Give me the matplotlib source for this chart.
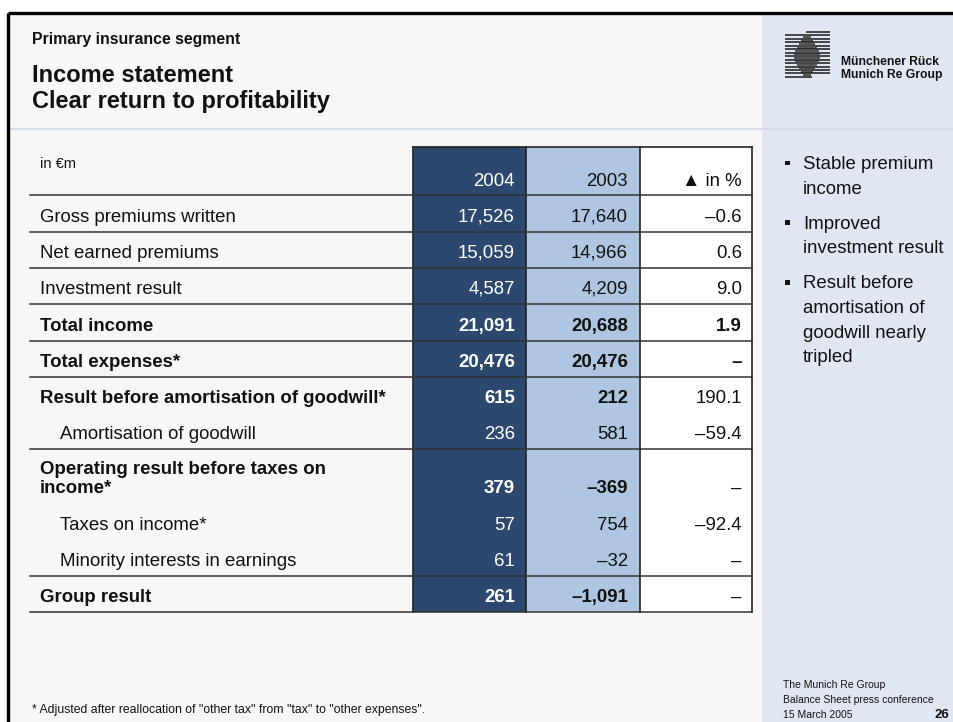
import matplotlib
matplotlib.use("Agg")
import matplotlib.pyplot as plt
from matplotlib.patches import Rectangle

plt.rcParams['font.family'] = ['Liberation Sans', 'DejaVu Sans']

# ---- table content -------------------------------------------------------
row_labels = [
    "Gross premiums written",
    "Net earned premiums",
    "Investment result",
    "Total income",
    "Total expenses*",
    "Result before amortisation of goodwill*",
    "Amortisation of goodwill",
    "Operating result before taxes on\nincome*",
    "Taxes on income*",
    "Minority interests in earnings",
    "Group result",
]
values_2004 = [17526, 15059, 4587, 21091, 20476, 615, 236, 379, 57, 61, 261]
values_2003 = [17640, 14966, 4209, 20688, 20476, 212, 581, -369, 754, -32, -1091]
change_pct = [-0.6, 0.6, 9.0, 1.9, None, 190.1, -59.4, None, -92.4, None, None]
bold_rows = [False, False, False, True, True, True, False, True, False, False, True]
bold_change = [False, False, False, True, True, False, False, False, False, False, False]
indented = [False, False, False, False, False, False, True, False, True, True, False]
rule_below = [True, True, True, True, True, False, True, False, False, True, True]
col_years = ["2004", "2003"]

bullets = [
    ["Stable premium", "income"],
    ["Improved", "investment result"],
    ["Result before", "amortisation of", "goodwill nearly", "tripled"],
]

# ---- layout (pixel space) ------------------------------------------------
W, H = 954, 722
col_edges = [413, 526, 640, 752]
table_top, header_bottom = 147, 195
row_bottoms = [232, 268, 304, 341, 377, 413, 449, 503, 540, 576, 612]
rule_left = 30
FS = 13.4

DARK = "#2c486e"
LIGHT = "#afc6e2"
MAIN_BG = "#f7f7f7"
PANEL_BG = "#e1e7f2"
INK = "#111111"

fig = plt.figure(figsize=(W / 100, H / 100), dpi=100)
ax = fig.add_axes([0, 0, 1, 1])
ax.set_xlim(0, W)
ax.set_ylim(H, 0)
ax.axis("off")
fig.patch.set_facecolor("white")

# slide backgrounds and frame
ax.add_patch(Rectangle((9, 13), 762 - 9, H - 13, color=MAIN_BG, lw=0, zorder=0))
ax.add_patch(Rectangle((762, 13), W - 762, H - 13, color=PANEL_BG, lw=0, zorder=0))
ax.plot([8.5, W], [12.5, 12.5], color="black", lw=2.4, solid_capstyle="butt", zorder=5)
ax.plot([8.5, 8.5], [12.5, H], color="black", lw=2.4, solid_capstyle="butt", zorder=5)
ax.plot([10, W], [128.5, 128.5], color="#d2dcea", lw=1.6, zorder=1)

# header text
ax.text(32, 44, "Primary insurance segment", fontsize=11.4, fontweight="bold",
        color=INK, va="baseline")
ax.text(32, 81.5, "Income statement", fontsize=17, fontweight="bold",
        color=INK, va="baseline")
ax.text(32, 108, "Clear return to profitability", fontsize=17, fontweight="bold",
        color=INK, va="baseline")

# logo: striped sphere
n_stripes = 14
for i in range(n_stripes):
    y = 32 + i * 3.45
    left = 806 if i == 0 else 785
    right = 812 if i == n_stripes - 1 else 830
    ax.plot([left, right], [y, y], color="#1a1a1a", lw=1.1, solid_capstyle="butt", zorder=3)
    t = (i + 0.5 - n_stripes / 2) / (n_stripes / 2)
    half = 14 * (1 - abs(t) ** 1.2)
    if half > 2 and i < n_stripes - 1:
        ax.plot([807 - half, 807 + half], [y + 1.7, y + 1.7], color="#2a2a2a",
                lw=1.1, solid_capstyle="butt", zorder=3)
ax.text(841, 65, "Münchener Rück", fontsize=8.7, fontweight="bold", color=INK, va="baseline")
ax.text(841, 78, "Munich Re Group", fontsize=8.7, fontweight="bold", color=INK, va="baseline")

# column fills
ax.add_patch(Rectangle((col_edges[0], table_top), col_edges[1] - col_edges[0],
                       row_bottoms[-1] - table_top, color=DARK, lw=0, zorder=1))
ax.add_patch(Rectangle((col_edges[1], table_top), col_edges[2] - col_edges[1],
                       row_bottoms[-1] - table_top, color=LIGHT, lw=0, zorder=1))
ax.add_patch(Rectangle((col_edges[2], table_top), col_edges[3] - col_edges[2],
                       row_bottoms[-1] - table_top, color="white", lw=0, zorder=1))

# grid
ax.plot([col_edges[0], col_edges[3]], [table_top, table_top], color="#222222", lw=1.2, zorder=4)
for x in col_edges:
    ax.plot([x, x], [table_top, row_bottoms[-1]], color="#222222", lw=1.2, zorder=4)
ax.plot([rule_left, col_edges[3]], [header_bottom, header_bottom], color="#333333", lw=1.1, zorder=4)
for yb, rule in zip(row_bottoms, rule_below):
    if rule:
        ax.plot([rule_left, col_edges[3]], [yb, yb], color="#333333", lw=1.1, zorder=4)

# column headers
ax.text(40, 167.5, "in €m", fontsize=10.5, color=INK, va="baseline")
ax.text(col_edges[1] - 11, 186.5, col_years[0], fontsize=FS, color="white", ha="right", va="baseline", zorder=5)
ax.text(col_edges[2] - 12, 186.5, col_years[1], fontsize=FS, color=INK, ha="right", va="baseline", zorder=5)
ax.text(col_edges[3] - 10, 186.5, "▲ in %", fontsize=FS, color=INK, ha="right", va="baseline", zorder=5)


def fmt_num(v):
    s = f"{abs(v):,}"
    return ("–" + s) if v < 0 else s


def fmt_pct(v):
    if v is None:
        return "–"
    s = f"{abs(v):.1f}"
    return ("–" + s) if v < 0 else s


for i, label in enumerate(row_labels):
    base = row_bottoms[i] - 10
    weight = "bold" if bold_rows[i] else "normal"
    lx = 60 if indented[i] else 40
    lines = label.split("\n")
    for k, line in enumerate(lines):
        ax.text(lx, base - (len(lines) - 1 - k) * 19.5, line, fontsize=FS, fontweight=weight,
                color=INK, va="baseline", zorder=5)
    ax.text(col_edges[1] - 11, base, fmt_num(values_2004[i]), fontsize=FS, fontweight=weight,
            color="white", ha="right", va="baseline", zorder=5)
    ax.text(col_edges[2] - 12, base, fmt_num(values_2003[i]), fontsize=FS, fontweight=weight,
            color=INK, ha="right", va="baseline", zorder=5)
    ax.text(col_edges[3] - 10, base, fmt_pct(change_pct[i]), fontsize=FS,
            fontweight="bold" if bold_change[i] else "normal",
            color=INK, ha="right", va="baseline", zorder=5)

# side panel bullets
y = 169
for group in bullets:
    ax.add_patch(Rectangle((785, y - 8.5), 4.6, 4.6, color=INK, lw=0, zorder=3))
    for line in group:
        ax.text(803, y, line, fontsize=FS, color=INK, va="baseline")
        y += 24.7
    y += 10.3

# footers
ax.text(32, 713, '* Adjusted after reallocation of "other tax" from "tax" to "other expenses".',
        fontsize=8.8, color=INK, va="baseline")
ax.text(783, 688, "The Munich Re Group", fontsize=7.5, color=INK, va="baseline")
ax.text(783, 703, "Balance Sheet press conference", fontsize=7.5, color=INK, va="baseline")
ax.text(783, 718, "15 March 2005", fontsize=7.5, color=INK, va="baseline")
ax.text(949, 718, "26", fontsize=9.5, fontweight="bold", color=INK, ha="right", va="baseline")

fig.savefig("out.png", dpi=100, facecolor=fig.get_facecolor())
